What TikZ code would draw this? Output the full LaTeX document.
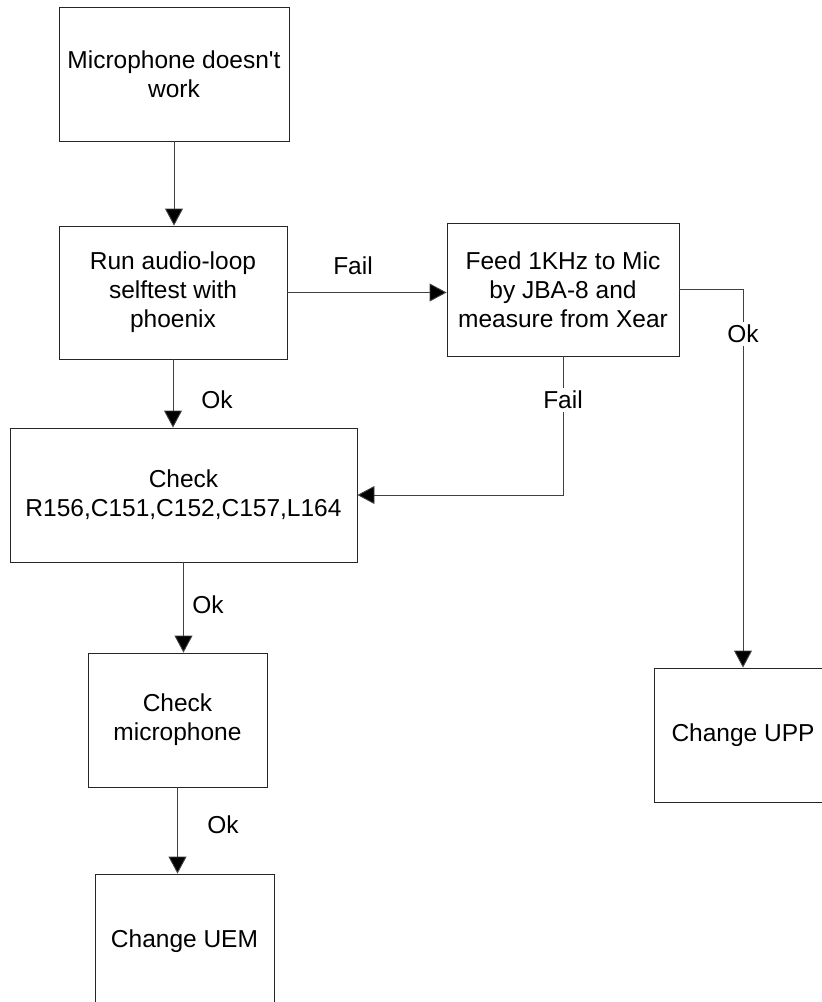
\documentclass[tikz,border=0pt]{standalone}
\usepackage{fontspec}
\setmainfont{Liberation Sans}
\usetikzlibrary{arrows.meta}
\begin{document}
\begin{tikzpicture}[x=1pt,y=1pt,
  font=\fontsize{24.5}{29}\selectfont,
  box/.style={draw=black!85, line width=0.9pt, rectangle, align=center, inner sep=0pt},
  conn/.style={draw=black!75, line width=0.9pt},
  arr/.style={conn, -{Triangle[width=18pt,length=17pt,fill=black]}},
  lbl/.style={inner sep=2pt},
  onlbl/.style={fill=white, inner sep=3pt}]
\useasboundingbox (0,0) rectangle (822,-1002);
\clip (0,0) rectangle (822,-1002);
\node[box, minimum width=230, minimum height=134] (b1) at (174,-74) {Microphone doesn\textquotesingle t\\work};
\node[box, minimum width=228, minimum height=133] (b2) at (173,-292.5) {Run audio-loop\\selftest with\\phoenix};
\node[box, minimum width=232, minimum height=133] (b3) at (563,-289.5) {Feed 1KHz to Mic\\by JBA-8 and\\measure from Xear};
\node[box, minimum width=347, minimum height=134] (b4) at (183.5,-495) {Check\\R156,C151,C152,C157,L164};
\node[box, minimum width=179, minimum height=134] (b5) at (177.5,-720) {Check\\microphone};
\node[box, minimum width=179, minimum height=134] (b6) at (184.5,-941) {Change UEM};
\node[box, minimum width=178, minimum height=134] (b7) at (743,-735) {Change UPP};

\draw[arr] (b1.south) -- (b1.south |- b2.north);
\draw[arr] (b2.east) -- (b2.east -| b3.west);
\draw[arr] (b2.south) -- (b2.south |- b4.north);
\draw[arr] (b4.south) -- (b4.south |- b5.north);
\draw[arr] (b5.south) -- (b5.south |- b6.north);
\draw[arr] (b3.east) -| (b7.north);
\draw[arr] (b3.south) |- (b4.east);

\node[lbl] (lf1) at (353,-266) {Fail};
\node[lbl] (lo1) at (217,-400) {Ok};
\node[onlbl] (lo2) at (743,-334) {Ok};
\node[onlbl] (lf2) at (563,-400) {Fail};
\node[lbl] (lo3) at (208,-605) {Ok};
\node[lbl] (lo4) at (223,-825) {Ok};
\end{tikzpicture}
\end{document}
